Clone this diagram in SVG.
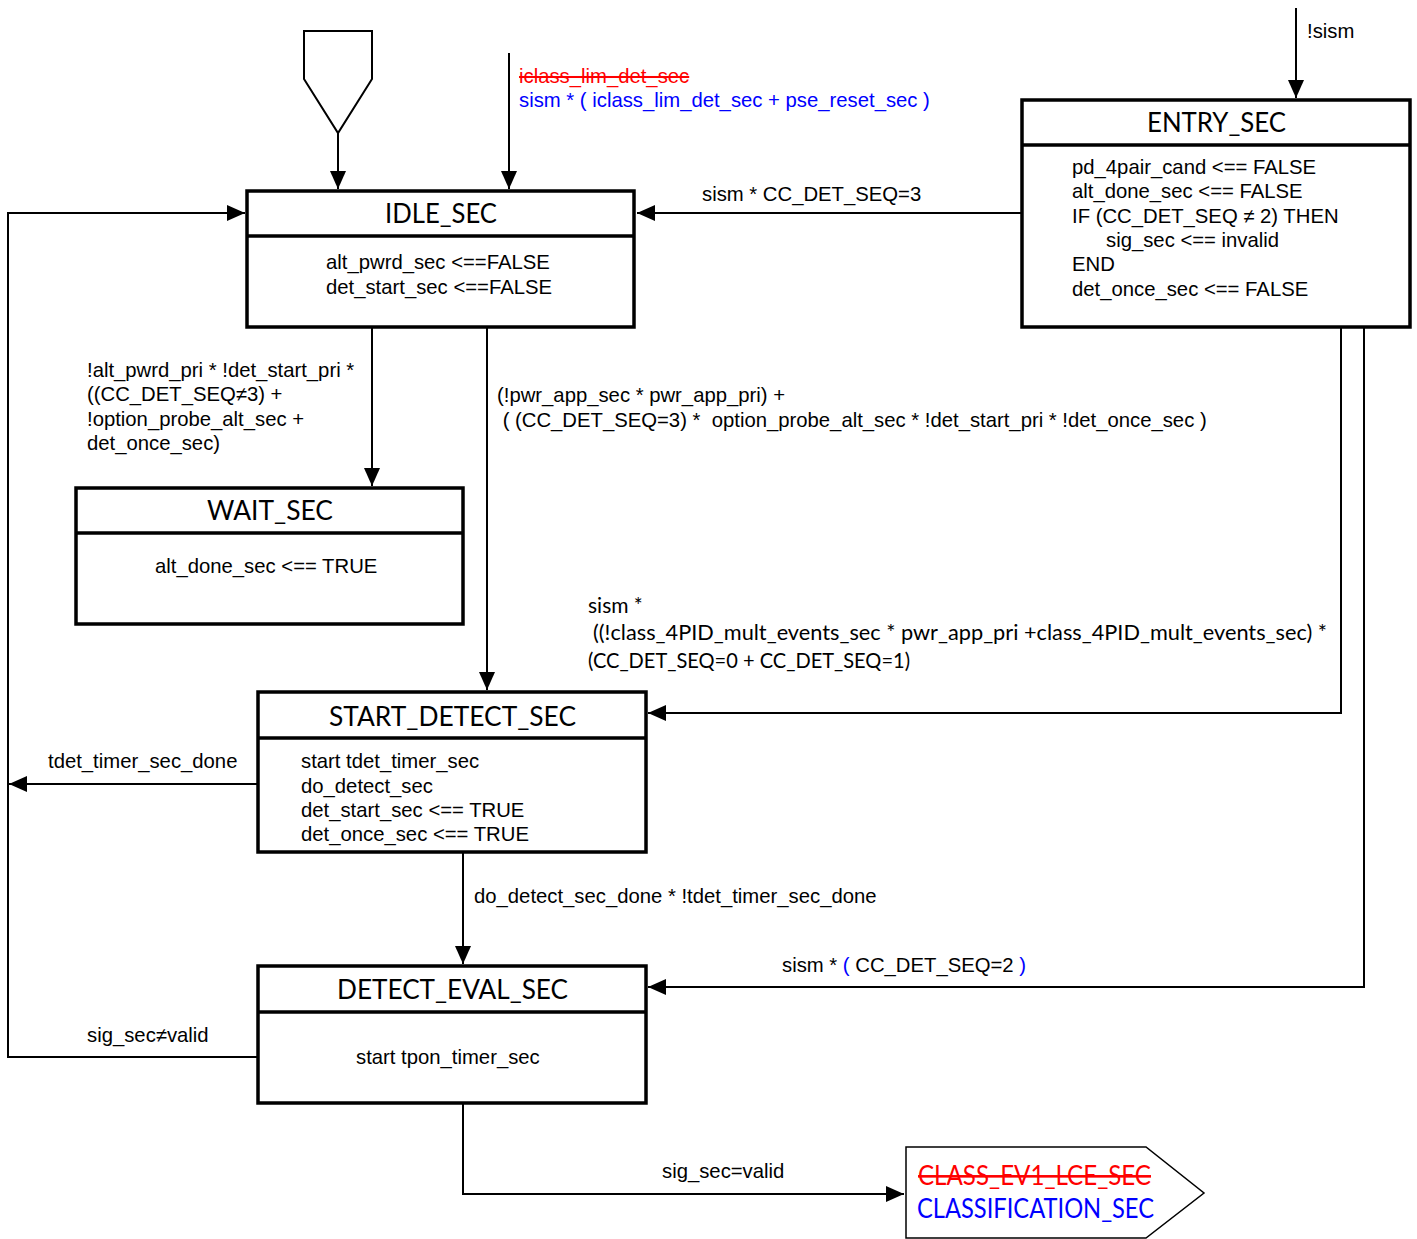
<svg xmlns="http://www.w3.org/2000/svg" width="1417" height="1239" viewBox="0 0 1417 1239">
<style>
.box{fill:#fff;stroke:#000;stroke-width:3.5}
.div{stroke:#000;stroke-width:3.5}
.con{fill:none;stroke:#000;stroke-width:2}
.t{font-family:"Liberation Sans",Arial,sans-serif;font-size:20.3px;fill:#000}
.title{font-family:Lato,"Open Sans",sans-serif;font-size:26px;fill:#000}
.cal{font-family:Lato,"Open Sans",sans-serif;font-size:21px;fill:#000}
.red{fill:#ff0000;text-decoration:line-through}
.blue{fill:#0000ff}
</style>
<defs>
<marker id="ah" markerUnits="userSpaceOnUse" markerWidth="20" markerHeight="18" refX="18" refY="8" orient="auto">
<path d="M0,0 L18,8 L0,16 z" fill="#000"/>
</marker>
</defs>

<g id="connectors">
<polyline class="con" points="338,133 338,189" marker-end="url(#ah)"/>
<polyline class="con" points="509,53 509,189" marker-end="url(#ah)"/>
<polyline class="con" points="1296,8 1296,98" marker-end="url(#ah)"/>
<polyline class="con" points="1022,213 637,213" marker-end="url(#ah)"/>
<polyline class="con" points="258,1057 8,1057 8,213 245,213" marker-end="url(#ah)"/>
<polyline class="con" points="372,327 372,486" marker-end="url(#ah)"/>
<polyline class="con" points="487,327 487,690" marker-end="url(#ah)"/>
<polyline class="con" points="258,784 9,784" marker-end="url(#ah)"/>
<polyline class="con" points="1341,325 1341,713 648,713" marker-end="url(#ah)"/>
<polyline class="con" points="1364,325 1364,987 648,987" marker-end="url(#ah)"/>
<polyline class="con" points="463,852 463,964" marker-end="url(#ah)"/>
<polyline class="con" points="463,1103 463,1194 904,1194" marker-end="url(#ah)"/>

<text class="t" x="519" y="83"><tspan class="red">iclass_lim_det_sec</tspan></text>
<text class="t blue" x="519" y="107">sism * ( iclass_lim_det_sec + pse_reset_sec )</text>
<text class="t" x="1307" y="38">!sism</text>
<text class="t" x="702" y="201">sism * CC_DET_SEQ=3</text>
<text class="t" x="87" y="377">!alt_pwrd_pri * !det_start_pri *</text>
<text class="t" x="87" y="401">((CC_DET_SEQ≠3) +</text>
<text class="t" x="87" y="426">!option_probe_alt_sec +</text>
<text class="t" x="87" y="450">det_once_sec)</text>
<text class="t" x="497" y="402">(!pwr_app_sec * pwr_app_pri) +</text>
<text class="t" x="497" y="427" xml:space="preserve"> ( (CC_DET_SEQ=3) *  option_probe_alt_sec * !det_start_pri * !det_once_sec )</text>
<text class="cal" x="588" y="613">sism *</text>
<text class="cal" x="593" y="640" textLength="734" lengthAdjust="spacingAndGlyphs">((!class_4PID_mult_events_sec * pwr_app_pri +class_4PID_mult_events_sec) *</text>
<text class="cal" x="588" y="668" textLength="322" lengthAdjust="spacingAndGlyphs">(CC_DET_SEQ=0 + CC_DET_SEQ=1)</text>
<text class="t" x="48" y="768">tdet_timer_sec_done</text>
<text class="t" x="474" y="903">do_detect_sec_done * !tdet_timer_sec_done</text>
<text class="t" x="782" y="972">sism * <tspan class="blue">(</tspan> CC_DET_SEQ=2 <tspan class="blue">)</tspan></text>
<text class="t" x="87" y="1042">sig_sec≠valid</text>
<text class="t" x="662" y="1178">sig_sec=valid</text>
</g>

<g id="start">
<polygon points="304,31 372,31 372,79 338,133 304,79" fill="#fff" stroke="#000" stroke-width="2"/>
</g>

<g id="idle_sec">
<rect class="box" x="247" y="191" width="387" height="136"/>
<line class="div" x1="247" y1="236" x2="634" y2="236"/>
<text class="title" x="385" y="223" textLength="112" lengthAdjust="spacingAndGlyphs">IDLE_SEC</text>
<text class="t" x="326" y="269">alt_pwrd_sec &lt;==FALSE</text>
<text class="t" x="326" y="294">det_start_sec &lt;==FALSE</text>
</g>

<g id="entry_sec">
<rect class="box" x="1022" y="100" width="388" height="227"/>
<line class="div" x1="1022" y1="145" x2="1410" y2="145"/>
<text class="title" x="1147" y="132" textLength="139" lengthAdjust="spacingAndGlyphs">ENTRY_SEC</text>
<text class="t" x="1072" y="174">pd_4pair_cand &lt;== FALSE</text>
<text class="t" x="1072" y="198">alt_done_sec &lt;== FALSE</text>
<text class="t" x="1072" y="223">IF (CC_DET_SEQ ≠ 2) THEN</text>
<text class="t" x="1106" y="247">sig_sec &lt;== invalid</text>
<text class="t" x="1072" y="271">END</text>
<text class="t" x="1072" y="296">det_once_sec &lt;== FALSE</text>
</g>

<g id="wait_sec">
<rect class="box" x="76" y="488" width="387" height="136"/>
<line class="div" x1="76" y1="533" x2="463" y2="533"/>
<text class="title" x="207" y="520" textLength="126" lengthAdjust="spacingAndGlyphs">WAIT_SEC</text>
<text class="t" x="155" y="573">alt_done_sec &lt;== TRUE</text>
</g>

<g id="start_detect_sec">
<rect class="box" x="258" y="692" width="388" height="160"/>
<line class="div" x1="258" y1="738" x2="646" y2="738"/>
<text class="title" x="329" y="726" textLength="247" lengthAdjust="spacingAndGlyphs">START_DETECT_SEC</text>
<text class="t" x="301" y="768">start tdet_timer_sec</text>
<text class="t" x="301" y="793">do_detect_sec</text>
<text class="t" x="301" y="817">det_start_sec &lt;== TRUE</text>
<text class="t" x="301" y="841">det_once_sec &lt;== TRUE</text>
</g>

<g id="detect_eval_sec">
<rect class="box" x="258" y="966" width="388" height="137"/>
<line class="div" x1="258" y1="1012" x2="646" y2="1012"/>
<text class="title" x="337" y="999" textLength="231" lengthAdjust="spacingAndGlyphs">DETECT_EVAL_SEC</text>
<text class="t" x="356" y="1064">start tpon_timer_sec</text>
</g>

<g id="classification_sec">
<polygon points="906,1147 1146,1147 1204,1193 1146,1238 906,1238" fill="#fff" stroke="#000" stroke-width="1.5"/>
<text class="title red" x="918" y="1185" textLength="233" lengthAdjust="spacingAndGlyphs">CLASS_EV1_LCE_SEC</text>
<text class="title blue" x="917" y="1218" textLength="237" lengthAdjust="spacingAndGlyphs">CLASSIFICATION_SEC</text>
</g>
</svg>
